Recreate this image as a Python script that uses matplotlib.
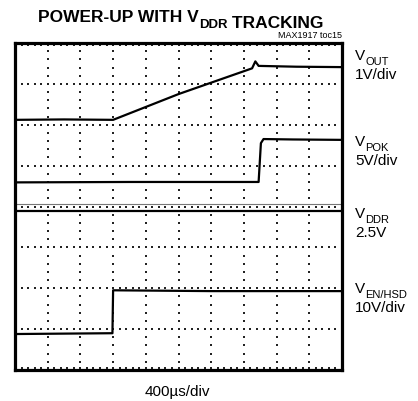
import numpy as np
import matplotlib
matplotlib.use('Agg')
import matplotlib.pyplot as plt

# scope traces in divisions (x: 0-10, y: 0-8)
vout_t = [0, 1.5, 3.0, 5.0, 7.25, 7.35, 7.45, 8.6, 10]
vout_v = [6.12, 6.13, 6.12, 6.75, 7.38, 7.55, 7.44, 7.42, 7.41]

vpok_t = [0, 3.5, 7.45, 7.52, 7.6, 8.5, 10]
vpok_v = [4.59, 4.60, 4.60, 5.55, 5.65, 5.64, 5.63]

vddr_t = [0, 5, 10]
vddr_v = [3.88, 3.88, 3.88]

ven_t = [0, 1.5, 2.98, 3.0, 6.0, 10]
ven_v = [0.88, 0.89, 0.90, 1.95, 1.93, 1.93]

labels = [('V', 'OUT', '1V/div'), ('V', 'POK', '5V/div'),
          ('V', 'DDR', '2.5V'), ('V', 'EN/HSD', '10V/div')]
label_y = [353, 267, 195, 120]  # pixel rows (from bottom) of the label tops

fnt = ['Liberation Sans', 'DejaVu Sans']
W, H = 418, 402

fig = plt.figure(figsize=(W / 100, H / 100), dpi=100)
ax = fig.add_axes([15 / W, 31 / H, 327 / W, 327 / H])
ax.set_xlim(0, 10)
ax.set_ylim(0, 8)
ax.set_xticks([])
ax.set_yticks([])
for s in ax.spines.values():
    s.set_linewidth(2.3)

# graticule dots
dot = dict(marker='s', s=1.0, color='#222222', linewidths=0)
xs = np.arange(0, 10.01, 0.2)
ys = np.arange(0, 8.01, 0.2)
for yy in range(1, 8):
    ax.scatter(xs, np.full_like(xs, yy), **dot)
for xx in range(1, 10):
    ax.scatter(np.full_like(ys, xx), ys, **dot)
ax.scatter(xs, np.full_like(xs, 0.06), **dot)
ax.scatter(xs, np.full_like(xs, 7.94), **dot)
ax.axhline(4.07, color='#777777', lw=0.8)

for t, v in [(vout_t, vout_v), (vpok_t, vpok_v), (vddr_t, vddr_v), (ven_t, ven_v)]:
    ax.plot(t, v, color='black', lw=1.6)

# title
tk = dict(family=fnt, fontweight='bold', va='baseline')
t1 = fig.text(38 / W, 1 - 22 / H, 'POWER-UP WITH V', fontsize=12.5, **tk)
t2 = ax.annotate('DDR', xy=(1, 0), xycoords=t1, xytext=(0, -2.5),
                 textcoords='offset points', fontsize=9.5, **tk)
ax.annotate(' TRACKING', xy=(1, 0), xycoords=t2, xytext=(0, 2.5),
            textcoords='offset points', fontsize=12.5, **tk)
fig.text(342 / W, 1 - 38 / H, 'MAX1917 toc15', family=fnt, fontsize=6.5,
         ha='right', va='baseline')

# channel labels on the right
lk = dict(family=fnt)
for (v, sub, scale), py in zip(labels, label_y):
    tv = fig.text(355 / W, py / H, v, fontsize=11, va='top', **lk)
    ax.annotate(sub, xy=(1, 0), xycoords=tv, xytext=(0, -1.5),
                textcoords='offset points', fontsize=8, va='baseline', **lk)
    fig.text(355 / W, (py - 19) / H, scale, fontsize=11, va='top', **lk)

fig.text(177 / W, 6 / H, '400\u00b5s/div', fontsize=11, ha='center',
         va='baseline', **lk)

fig.savefig('out.png', dpi=100)
